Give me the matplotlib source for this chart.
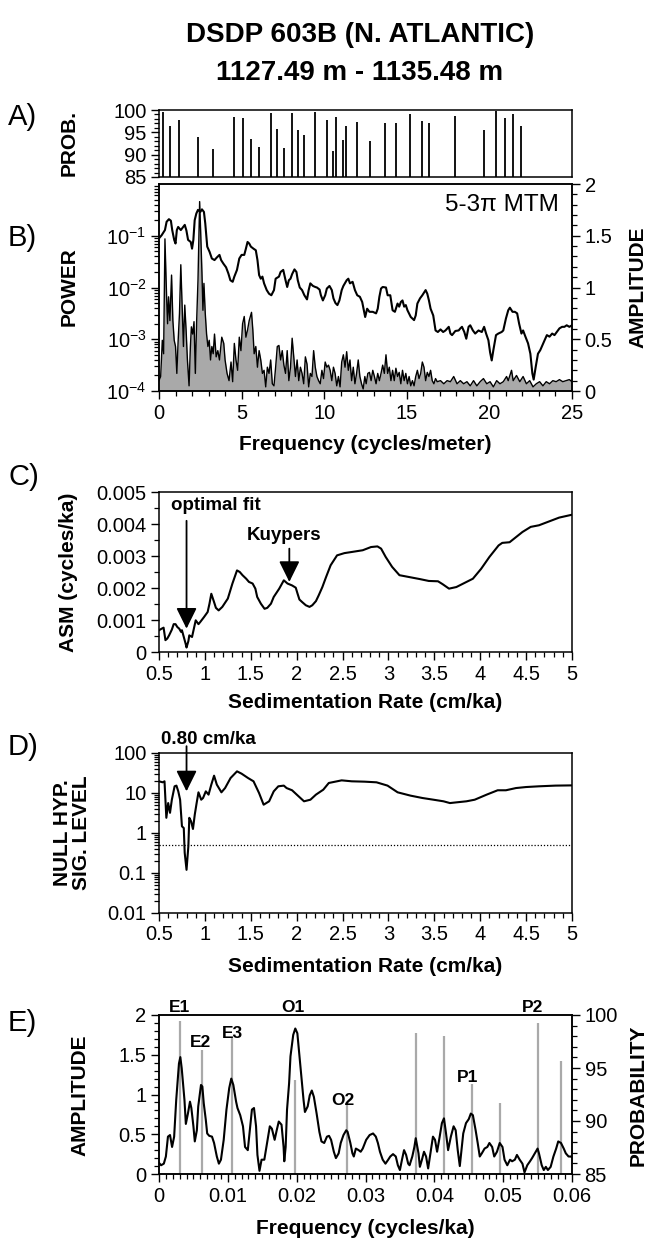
import numpy as np
import matplotlib.pyplot as plt
from matplotlib.ticker import MultipleLocator, LogLocator, NullFormatter, FuncFormatter, FixedLocator, FixedFormatter

plt.rcParams['font.family'] = ['Liberation Sans', 'DejaVu Sans']
plt.rcParams['mathtext.fontset'] = 'custom'
plt.rcParams['mathtext.rm'] = 'Liberation Sans'
plt.rcParams['axes.linewidth'] = 1.1

# ---------------- data ----------------
# A) probability of spectral peaks (cycles/meter, %)
prob_freq = [0.25, 0.68, 1.23, 2.37, 3.28, 4.55, 5.06, 5.56, 6.08, 6.75, 7.16, 7.58,
             8.03, 8.40, 8.80, 9.42, 10.15, 10.52, 10.73, 11.13, 11.33, 12.00, 12.80,
             13.68, 14.33, 15.22, 15.92, 16.36, 17.90, 19.68, 20.39, 20.93, 21.44, 21.89]
prob_val = [99.6, 96.4, 97.7, 94.0, 91.3, 98.5, 98.2, 93.5, 91.7, 99.3, 95.8, 91.6,
            99.3, 95.5, 94.3, 99.6, 97.7, 90.9, 98.5, 93.2, 96.4, 97.3, 93.0,
            97.0, 97.2, 99.2, 97.5, 97.2, 98.6, 95.6, 99.8, 98.2, 99.1, 96.5]

# B) MTM power (log10) and amplitude vs frequency (cycles/meter)
pow_freq = [0.00, 0.16, 0.36, 0.46, 0.60, 0.72, 0.80, 0.92, 1.00, 1.08, 1.16, 1.32, 1.46, 1.56,
            1.66, 1.76, 1.92, 2.00, 2.08, 2.16, 2.26, 2.36, 2.50, 2.60, 2.72, 2.80, 2.92, 3.06,
            3.20, 3.36, 3.50, 3.66, 3.76, 3.90, 4.06, 4.20, 4.32, 4.46, 4.56, 4.72, 4.86, 5.00,
            5.16, 5.26, 5.36, 5.46, 5.56, 5.72, 5.86, 5.96, 6.06, 6.16, 6.26, 6.36, 6.52, 6.66,
            6.80, 6.96, 7.06, 7.26, 7.36, 7.52, 7.66, 7.76, 7.86, 7.96, 8.06, 8.20, 8.32, 8.40,
            8.52, 8.66, 8.80, 8.96, 9.06, 9.16, 9.32, 9.46, 9.56, 9.72, 9.80, 9.92, 10.06, 10.16,
            10.32, 10.46, 10.56, 10.68, 10.80, 10.92, 11.06, 11.16, 11.36, 11.46, 11.56, 11.72,
            11.86, 12.00, 12.16, 12.30, 12.40, 12.48, 12.60, 12.74, 12.94, 13.14, 13.24, 13.34,
            13.44, 13.54, 13.74, 13.84, 14.00, 14.14, 14.28, 14.44, 14.54, 14.64, 14.74, 14.84,
            14.94, 15.04, 15.24, 15.44, 15.54, 15.64, 15.80, 15.94, 16.14, 16.24, 16.34, 16.44,
            16.60, 16.74, 16.88, 17.04, 17.20, 17.34, 17.54, 17.64, 17.74, 17.94, 18.14, 18.24,
            18.34, 18.48, 18.60, 18.74, 18.84, 19.00, 19.14, 19.34, 19.54, 19.68, 19.80, 19.94,
            20.04, 20.14, 20.24, 20.40, 20.54, 20.74, 20.84, 21.00, 21.14, 21.24, 21.40, 21.54,
            21.68, 21.80, 21.94, 22.04, 22.18, 22.34, 22.48, 22.60, 22.68, 22.80, 22.94, 23.08,
            23.20, 23.34, 23.48, 23.64, 23.80, 23.94, 24.08, 24.24, 24.40, 24.54, 24.68, 24.84, 25.00]
pow_log = [-1.05, -0.99, -0.89, -0.73, -0.68, -0.71, -0.89, -1.08, -1.15, -0.89, -0.83, -0.89, -0.83, -0.79,
           -0.90, -1.08, -1.12, -1.25, -1.08, -0.70, -0.57, -0.50, -0.54, -0.49, -0.54, -0.76, -1.21, -1.31,
           -1.44, -1.47, -1.42, -1.37, -1.47, -1.54, -1.61, -1.73, -1.86, -1.89, -1.79, -1.66, -1.44, -1.37,
           -1.37, -1.25, -1.12, -1.15, -1.21, -1.25, -1.28, -1.47, -1.76, -1.83, -1.79, -1.92, -2.05, -2.12,
           -2.15, -2.05, -1.83, -1.79, -1.70, -1.66, -1.86, -1.99, -1.86, -1.83, -1.74, -1.65, -1.70, -1.86,
           -2.00, -2.05, -2.15, -2.23, -2.05, -1.92, -1.97, -1.99, -2.00, -2.04, -2.15, -2.25, -2.15, -2.02,
           -1.97, -2.05, -2.21, -2.30, -2.34, -2.25, -2.05, -1.97, -1.86, -1.83, -1.92, -1.89,
           -2.05, -2.15, -2.18, -2.28, -2.44, -2.57, -2.41, -2.47, -2.47, -2.50, -2.41, -2.18,
           -2.02, -1.99, -2.00, -2.15, -2.15, -2.44, -2.47, -2.31, -2.37, -2.28, -2.25, -2.37,
           -2.34, -2.44, -2.57, -2.63, -2.54, -2.31, -2.21, -2.15, -2.05, -2.12, -2.25, -2.41,
           -2.54, -2.83, -2.86, -2.81, -2.86, -2.83, -2.76, -2.89, -2.92, -2.84, -2.83, -2.79,
           -2.76, -2.86, -2.99, -2.76, -2.73, -2.83, -2.89, -2.83, -2.86, -2.76, -2.89, -3.02,
           -3.25, -3.41, -3.21, -2.92, -2.89, -2.86, -2.83, -2.60, -2.44, -2.39, -2.47, -2.47,
           -2.50, -2.70, -2.89, -2.83, -2.95, -3.08, -3.28, -3.66, -3.78, -3.54, -3.28, -3.21,
           -3.12, -3.02, -2.92, -2.95, -2.89, -2.92, -2.86, -2.79, -2.76, -2.76, -2.73, -2.76, -2.73]

amp_freq = [0.00, 0.10, 0.20, 0.28, 0.36, 0.46, 0.52, 0.58, 0.66, 0.76, 0.84, 0.92, 1.00, 1.08,
            1.16, 1.24, 1.32, 1.40, 1.48, 1.56, 1.64, 1.72, 1.82, 1.90, 1.96, 2.04, 2.12, 2.20,
            2.28, 2.36, 2.46, 2.52, 2.60, 2.66, 2.72, 2.80, 2.88, 2.96, 3.04, 3.12, 3.20, 3.28,
            3.36, 3.46, 3.56, 3.66, 3.80, 3.92, 4.00, 4.12, 4.24, 4.36, 4.46, 4.56, 4.66, 4.76,
            4.86, 4.96, 5.06, 5.16, 5.26, 5.36, 5.46, 5.60, 5.68, 5.76, 5.86, 5.96, 6.06, 6.16,
            6.26, 6.36, 6.46, 6.56, 6.66, 6.76, 6.86, 6.96, 7.06, 7.16, 7.26, 7.36, 7.46, 7.56,
            7.66, 7.76, 7.86, 7.96, 8.06, 8.16, 8.26, 8.36, 8.46, 8.56, 8.66, 8.76, 8.86, 8.96,
            9.06, 9.16, 9.26, 9.36, 9.46, 9.56, 9.66, 9.76, 9.86, 9.96, 10.06, 10.16, 10.26, 10.36,
            10.46, 10.56, 10.66, 10.76, 10.86, 10.96, 11.06, 11.16, 11.26, 11.36, 11.46, 11.56,
            11.66, 11.76, 11.86, 11.96, 12.06, 12.16, 12.26, 12.36, 12.46, 12.54, 12.64, 12.74,
            12.84, 12.94, 13.04, 13.14, 13.24, 13.34, 13.44, 13.54, 13.64, 13.74, 13.84, 13.94,
            14.04, 14.14, 14.24, 14.34, 14.44, 14.54, 14.64, 14.74, 14.84, 14.94, 15.04, 15.14,
            15.24, 15.34, 15.44, 15.54, 15.64, 15.74, 15.84, 15.94, 16.04, 16.14, 16.24, 16.34,
            16.44, 16.54, 16.64, 16.74, 16.84, 17.04, 17.24, 17.44, 17.64, 17.84, 18.04, 18.24,
            18.44, 18.64, 18.84, 19.04, 19.24, 19.44, 19.64, 19.84, 20.04, 20.24, 20.44, 20.64,
            20.84, 21.04, 21.14, 21.34, 21.44, 21.64, 21.84, 22.04, 22.24, 22.44, 22.64, 22.84,
            23.04, 23.24, 23.44, 23.64, 23.84, 24.04, 24.24, 24.44, 24.64, 24.84, 25.00]
amp_val = [0.10, 0.14, 0.49, 0.36, 1.47, 0.91, 0.65, 0.91, 0.68, 1.12, 0.68, 0.49, 0.43, 0.17,
           0.49, 0.75, 1.22, 0.81, 0.43, 0.83, 0.59, 0.30, 0.05, 0.43, 0.62, 0.55, 0.67, 0.17,
           0.68, 1.07, 1.83, 1.55, 1.14, 0.78, 1.04, 0.75, 0.55, 0.43, 0.49, 0.30, 0.43, 0.36,
           0.55, 0.33, 0.39, 0.30, 0.52, 0.46, 0.30, 0.17, 0.10, 0.28, 0.09, 0.46, 0.30, 0.20,
           0.52, 0.39, 0.65, 0.72, 0.52, 0.59, 0.68, 0.76, 0.59, 0.36, 0.43, 0.23, 0.39, 0.30,
           0.17, 0.20, 0.04, 0.23, 0.17, 0.30, 0.07, 0.05, 0.23, 0.43, 0.44, 0.30, 0.39, 0.25,
           0.17, 0.39, 0.10, 0.23, 0.51, 0.33, 0.14, 0.30, 0.10, 0.23, 0.17, 0.07, 0.33, 0.26,
           0.04, 0.17, 0.14, 0.39, 0.23, 0.14, 0.10, 0.07, 0.20, 0.12, 0.28, 0.23, 0.25, 0.20,
           0.10, 0.23, 0.17, 0.05, 0.14, 0.04, 0.28, 0.35, 0.23, 0.38, 0.20, 0.30,
           0.10, 0.23, 0.07, 0.17, 0.30, 0.14, 0.07, 0.02, 0.14, 0.07, 0.17, 0.18,
           0.10, 0.20, 0.14, 0.07, 0.17, 0.10, 0.17, 0.25, 0.17, 0.35, 0.17, 0.23,
           0.10, 0.20, 0.10, 0.22, 0.14, 0.18, 0.07, 0.20, 0.10, 0.17, 0.07, 0.14,
           0.05, 0.10, 0.05, 0.14, 0.20, 0.12, 0.17, 0.28, 0.23, 0.10, 0.18, 0.14,
           0.20, 0.10, 0.07, 0.12, 0.09, 0.10, 0.07, 0.10, 0.09, 0.14, 0.07, 0.10,
           0.07, 0.09, 0.05, 0.10, 0.05, 0.09, 0.12, 0.07, 0.09, 0.04, 0.10, 0.07,
           0.09, 0.14, 0.10, 0.20, 0.10, 0.15, 0.09, 0.14, 0.07, 0.10, 0.04, 0.07,
           0.09, 0.05, 0.09, 0.07, 0.10, 0.09, 0.11, 0.09, 0.10, 0.11, 0.09]

# C) average spectral misfit vs sedimentation rate (cm/ka)
asm_rate = [0.50, 0.53, 0.55, 0.57, 0.59, 0.61, 0.64, 0.66, 0.68, 0.70, 0.72, 0.74, 0.75, 0.77,
            0.79, 0.80, 0.82, 0.83, 0.86, 0.90, 0.93, 0.95, 0.99, 1.03, 1.05, 1.07, 1.10, 1.12,
            1.15, 1.19, 1.25, 1.30, 1.35, 1.38, 1.41, 1.45, 1.48, 1.52, 1.55, 1.57, 1.61, 1.65,
            1.68, 1.72, 1.75, 1.81, 1.86, 1.90, 1.95, 1.99, 2.01, 2.03, 2.06, 2.10, 2.14, 2.17,
            2.21, 2.24, 2.28, 2.32, 2.37, 2.44, 2.52, 2.61, 2.72, 2.81, 2.88, 2.92, 2.97, 3.04,
            3.12, 3.23, 3.34, 3.44, 3.54, 3.59, 3.66, 3.74, 3.83, 3.92, 4.01, 4.10, 4.20, 4.24,
            4.32, 4.39, 4.46, 4.55, 4.64, 4.75, 4.86, 5.00]
asm_val = [0.00068, 0.00073, 0.00076, 0.00037, 0.00042, 0.00052, 0.00070, 0.00087, 0.00087,
           0.00078, 0.00073, 0.00063, 0.00068, 0.00047, 0.00026, 0.00014, 0.00034, 0.00052,
           0.00047, 0.00099, 0.00087, 0.00094, 0.00109, 0.00125, 0.00151, 0.00182, 0.00156,
           0.00138, 0.00130, 0.00141, 0.00167, 0.00214, 0.00255, 0.00250, 0.00240, 0.00229,
           0.00219, 0.00214, 0.00198, 0.00172, 0.00151, 0.00135, 0.00138, 0.00151, 0.00172,
           0.00198, 0.00224, 0.00214, 0.00208, 0.00201, 0.00182, 0.00164, 0.00156, 0.00146,
           0.00141, 0.00146, 0.00159, 0.00177, 0.00203, 0.00234, 0.00271, 0.00302, 0.00309,
           0.00313, 0.00318, 0.00328, 0.00330, 0.00323, 0.00297, 0.00266, 0.00240, 0.00234,
           0.00228, 0.00222, 0.00221, 0.00212, 0.00198, 0.00203, 0.00216, 0.00229, 0.00260,
           0.00297, 0.00333, 0.00341, 0.00343, 0.00359, 0.00375, 0.00391, 0.00396, 0.00408,
           0.00420, 0.00429]

# D) null hypothesis significance level (%)
sig_rate = [0.50, 0.54, 0.56, 0.58, 0.60, 0.62, 0.64, 0.67, 0.69, 0.71, 0.73, 0.75, 0.77, 0.78,
            0.80, 0.82, 0.83, 0.85, 0.87, 0.89, 0.91, 0.93, 0.96, 0.98, 1.01, 1.04, 1.07, 1.10,
            1.13, 1.18, 1.22, 1.28, 1.35, 1.40, 1.47, 1.53, 1.59, 1.64, 1.70, 1.75, 1.80, 1.86,
            1.89, 1.95, 2.02, 2.08, 2.15, 2.21, 2.29, 2.35, 2.49, 2.60, 2.74, 2.87, 2.99, 3.10,
            3.24, 3.37, 3.49, 3.60, 3.67, 3.73, 3.85, 3.94, 4.07, 4.19, 4.28, 4.39, 4.50, 4.64,
            4.82, 5.00]
sig_val = [19.6, 18.5, 19.6, 2.4, 5.6, 3.2, 6.8, 14.7, 15.3, 11.0, 6.8, 1.47, 1.33, 0.32,
           0.12, 0.47, 2.4, 1.95, 1.26, 2.9, 5.6, 10.4, 6.8, 7.5, 11.0, 9.1, 16.2, 27.1,
           16.2, 10.4, 13.3, 23.7, 34.8, 30.4, 23.7, 19.6, 10.0, 5.1, 6.2, 11.0, 14.7, 15.3,
           13.3, 11.7, 8.3, 6.2, 6.8, 9.1, 12.1, 17.8, 20.7, 19.6, 19.2, 18.5, 15.3, 10.4,
           8.6, 7.5, 6.8, 6.2, 5.6, 5.8, 6.2, 6.8, 9.1, 11.7, 11.7, 13.3, 14.1, 14.7,
           15.3, 15.5]
sig_cutoff = 0.5

# E) amplitude vs frequency (cycles/ka) and astronomical term probabilities
e_freq = [0.0000, 0.0003, 0.0007, 0.0010, 0.0013, 0.0016, 0.0019, 0.0022, 0.0025, 0.0029,
          0.0031, 0.0033, 0.0037, 0.0039, 0.0042, 0.0045, 0.0047, 0.0050, 0.0052, 0.0055,
          0.0057, 0.0061, 0.0063, 0.0065, 0.0068, 0.0070, 0.0073, 0.0077, 0.0080, 0.0084,
          0.0087, 0.0090, 0.0094, 0.0098, 0.0102, 0.0105, 0.0108, 0.0112, 0.0114, 0.0118,
          0.0122, 0.0125, 0.0129, 0.0132, 0.0135, 0.0138, 0.0141, 0.0143, 0.0146, 0.0149,
          0.0153, 0.0157, 0.0161, 0.0164, 0.0168, 0.0171, 0.0174, 0.0178, 0.0181, 0.0182,
          0.0184, 0.0186, 0.0189, 0.0191, 0.0195, 0.0198, 0.0201, 0.0203, 0.0207, 0.0210,
          0.0212, 0.0216, 0.0219, 0.0222, 0.0225, 0.0229, 0.0233, 0.0236, 0.0240, 0.0244,
          0.0247, 0.0250, 0.0254, 0.0257, 0.0261, 0.0264, 0.0268, 0.0272, 0.0274, 0.0278,
          0.0281, 0.0283, 0.0286, 0.0290, 0.0293, 0.0296, 0.0301, 0.0306, 0.0311, 0.0315,
          0.0318, 0.0321, 0.0325, 0.0329, 0.0333, 0.0336, 0.0340, 0.0344, 0.0347, 0.0350,
          0.0353, 0.0356, 0.0359, 0.0362, 0.0364, 0.0368, 0.0371, 0.0373, 0.0377, 0.0379,
          0.0382, 0.0385, 0.0388, 0.0391, 0.0395, 0.0398, 0.0401, 0.0404, 0.0407, 0.0411,
          0.0414, 0.0417, 0.0420, 0.0424, 0.0428, 0.0431, 0.0434, 0.0437, 0.0439, 0.0442,
          0.0446, 0.0450, 0.0453, 0.0456, 0.0460, 0.0463, 0.0466, 0.0469, 0.0473, 0.0477,
          0.0480, 0.0484, 0.0487, 0.0491, 0.0495, 0.0499, 0.0502, 0.0506, 0.0510, 0.0513,
          0.0517, 0.0520, 0.0524, 0.0528, 0.0531, 0.0535, 0.0539, 0.0542, 0.0546, 0.0550,
          0.0552, 0.0556, 0.0559, 0.0562, 0.0565, 0.0569, 0.0573, 0.0577, 0.0580, 0.0584,
          0.0588, 0.0591, 0.0595, 0.0599, 0.0600]
e_amp = [0.14, 0.11, 0.13, 0.22, 0.47, 0.49, 0.34, 0.47, 0.93, 1.39,
         1.47, 1.33, 0.93, 0.63, 0.76, 0.91, 0.83, 0.60, 0.41, 0.55,
         0.85, 1.12, 1.10, 0.89, 0.68, 0.51, 0.48, 0.47, 0.39, 0.22,
         0.13, 0.18, 0.43, 0.81, 1.08, 1.20, 1.12, 0.91, 0.83, 0.74,
         0.60, 0.34, 0.30, 0.55, 0.81, 0.83, 0.60, 0.24, 0.04, 0.18,
         0.18, 0.39, 0.60, 0.57, 0.43, 0.55, 0.66, 0.62, 0.34, 0.16,
         0.34, 0.81, 1.14, 1.48, 1.75, 1.83, 1.77, 1.58, 1.20, 0.93,
         0.78, 0.85, 0.99, 1.05, 0.97, 0.76, 0.53, 0.41, 0.39, 0.47,
         0.48, 0.43, 0.28, 0.20, 0.26, 0.39, 0.49, 0.55, 0.53, 0.39,
         0.26, 0.22, 0.32, 0.30, 0.28, 0.32, 0.43, 0.49, 0.51, 0.47,
         0.39, 0.28, 0.18, 0.13, 0.18, 0.22, 0.25, 0.22, 0.11, 0.05,
         0.18, 0.30, 0.24, 0.13, 0.11, 0.22, 0.34, 0.45, 0.26, 0.09,
         0.18, 0.28, 0.22, 0.07, 0.30, 0.47, 0.43, 0.28, 0.43, 0.64,
         0.70, 0.51, 0.30, 0.47, 0.60, 0.55, 0.30, 0.10, 0.26, 0.51,
         0.64, 0.69, 0.76, 0.74, 0.55, 0.39, 0.22, 0.26, 0.32, 0.34,
         0.39, 0.34, 0.22, 0.28, 0.39, 0.34, 0.18, 0.11, 0.18, 0.16,
         0.18, 0.24, 0.18, 0.13, 0.02, 0.11, 0.16, 0.20, 0.26, 0.32,
         0.26, 0.11, 0.05, 0.09, 0.05, 0.09, 0.22, 0.32, 0.41, 0.39,
         0.32, 0.26, 0.22, 0.22, 0.21]
e_bar_freq = [0.0030, 0.0062, 0.0106, 0.0197, 0.0273, 0.0373, 0.0414, 0.0455, 0.0496, 0.0550, 0.0584]
e_bar_prob = [99.4, 96.7, 97.9, 93.9, 91.7, 98.3, 98.0, 93.5, 91.7, 99.2, 95.7]
term_names = ['E1', 'E2', 'E3', 'O1', 'O2', 'P1', 'P2']
term_freq = [0.0030, 0.0060, 0.0106, 0.0195, 0.0267, 0.0449, 0.0542]
term_amp = [2.10, 1.65, 1.77, 2.09, 0.93, 1.22, 2.10]

# ---------------- figure ----------------
W, H = 650, 1242
fig = plt.figure(figsize=(W / 100, H / 100), dpi=100)

X0, X1 = 159, 572


def rect(top, bot):
    return [X0 / W, 1 - bot / H, (X1 - X0) / W, (bot - top) / H]


def px(x, y):
    return x / W, 1 - y / H


TICK = 14.5
LAB = 15
fmt = FuncFormatter(lambda v, p: '%g' % v)


def style(ax, right=False):
    ax.tick_params(which='major', direction='out', length=6, width=1.0, labelsize=TICK,
                   top=False, right=right, left=not right, pad=3)
    ax.tick_params(which='minor', direction='out', length=3.5, width=0.9,
                   top=False, right=right, left=not right)


def side_label(text, x, y, size=LAB):
    fig.text(*px(x, y), text, rotation=90, ha='center', va='center',
             fontsize=size, fontweight='bold', linespacing=1.0)


def panel_letter(text, y):
    fig.text(*px(8, y), text, ha='left', va='center', fontsize=21)


fig.text(*px(360, 35), 'DSDP 603B (N. ATLANTIC)', ha='center', va='center',
         fontsize=20, fontweight='bold')
fig.text(*px(360, 73), '1127.49 m - 1135.48 m', ha='center', va='center',
         fontsize=20, fontweight='bold')

# A
axA = fig.add_axes(rect(110, 177))
axA.vlines(prob_freq, 85, prob_val, color='k', lw=1.3)
axA.set_xlim(0, 25)
axA.set_ylim(85, 100)
axA.set_xticks([])
axA.yaxis.set_major_locator(MultipleLocator(5))
axA.yaxis.set_minor_locator(MultipleLocator(1))
axA.yaxis.set_major_formatter(fmt)
style(axA)
panel_letter('A)', 117)
side_label('PROB.', 69, 143)

# B
axB = fig.add_axes(rect(184, 391))
axB.plot(pow_freq, 10 ** np.array(pow_log), color='k', lw=1.5, zorder=3)
axB.set_yscale('log')
axB.set_ylim(1e-4, 1)
axB.set_xlim(0, 25)
axB.yaxis.set_major_locator(FixedLocator([1e-4, 1e-3, 1e-2, 1e-1]))
axB.yaxis.set_major_formatter(FixedFormatter([r'$10^{-4}$', r'$10^{-3}$', r'$10^{-2}$', r'$10^{-1}$']))
axB.yaxis.set_minor_locator(LogLocator(base=10, subs=np.arange(2, 10), numticks=20))
axB.yaxis.set_minor_formatter(NullFormatter())
axB.xaxis.set_major_locator(MultipleLocator(5))
axB.xaxis.set_minor_locator(MultipleLocator(1))
axB.xaxis.set_major_formatter(fmt)
style(axB)
axB2 = axB.twinx()
axB2.fill_between(amp_freq, 0, amp_val, color='#a9a9a9', lw=0)
axB2.plot(amp_freq, amp_val, color='k', lw=1.0)
axB2.set_ylim(0, 2)
axB2.set_xlim(0, 25)
axB2.yaxis.set_major_locator(MultipleLocator(0.5))
axB2.yaxis.set_minor_locator(MultipleLocator(0.1))
axB2.yaxis.set_major_formatter(fmt)
style(axB2, right=True)
axB.set_zorder(axB2.get_zorder() + 1)
axB.patch.set_visible(False)
axB.text(0.968, 0.90, '5-3\u03c0 MTM', transform=axB.transAxes, ha='right', va='center', fontsize=17.5)
panel_letter('B)', 238)
side_label('POWER', 69, 287)
side_label('AMPLITUDE', 638, 287)
fig.text(*px(365, 445), 'Frequency (cycles/meter)', ha='center', va='center',
         fontsize=LAB, fontweight='bold')

arrow = dict(arrowstyle='-|>,head_length=0.85,head_width=0.42', color='k', lw=1.3,
             mutation_scale=15, shrinkA=0, shrinkB=0)

# C
axC = fig.add_axes(rect(492, 652))
axC.plot(asm_rate, asm_val, color='k', lw=1.5)
axC.set_xlim(0.5, 5)
axC.set_ylim(0, 0.005)
axC.xaxis.set_major_locator(MultipleLocator(0.5))
axC.xaxis.set_minor_locator(MultipleLocator(0.1))
axC.yaxis.set_major_locator(MultipleLocator(0.001))
axC.yaxis.set_minor_locator(MultipleLocator(0.0005))
axC.xaxis.set_major_formatter(fmt)
axC.yaxis.set_major_formatter(fmt)
style(axC)
axC.annotate('', xy=(0.80, 0.00073), xytext=(0.80, 0.0041), arrowprops=arrow)
axC.text(1.12, 0.00458, 'optimal fit', ha='center', va='center', fontsize=13.5, fontweight='bold')
axC.annotate('', xy=(1.92, 0.00219), xytext=(1.92, 0.00323), arrowprops=arrow)
axC.text(1.86, 0.00365, 'Kuypers', ha='center', va='center', fontsize=13.5, fontweight='bold')
panel_letter('C)', 477)
side_label('ASM (cycles/ka)', 69, 572)
fig.text(*px(365, 703), 'Sedimentation Rate (cm/ka)', ha='center', va='center',
         fontsize=LAB, fontweight='bold')

# D
axD = fig.add_axes(rect(753, 913))
axD.plot(sig_rate, sig_val, color='k', lw=1.5)
axD.axhline(sig_cutoff, color='k', lw=0.9, ls=(0, (1, 1.5)))
axD.set_yscale('log')
axD.set_xlim(0.5, 5)
axD.set_ylim(0.01, 100)
axD.yaxis.set_major_locator(FixedLocator([0.01, 0.1, 1, 10, 100]))
axD.yaxis.set_major_formatter(FixedFormatter(['0.01', '0.1', '1', '10', '100']))
axD.yaxis.set_minor_locator(LogLocator(base=10, subs=np.arange(2, 10), numticks=20))
axD.yaxis.set_minor_formatter(NullFormatter())
axD.xaxis.set_major_locator(MultipleLocator(0.5))
axD.xaxis.set_minor_locator(MultipleLocator(0.1))
axD.xaxis.set_major_formatter(fmt)
style(axD)
axD.annotate('', xy=(0.80, 11), xytext=(0.80, 148), arrowprops=arrow, annotation_clip=False)
axD.text(1.04, 214, '0.80 cm/ka', ha='center', va='center', fontsize=13.5, fontweight='bold',
         clip_on=False)
panel_letter('D)', 747)
side_label('NULL HYP.\nSIG. LEVEL', 72, 833)
fig.text(*px(365, 967), 'Sedimentation Rate (cm/ka)', ha='center', va='center',
         fontsize=LAB, fontweight='bold')

# E
axE = fig.add_axes(rect(1015, 1174))
axE2 = axE.twinx()
axE2.vlines(e_bar_freq, 85, e_bar_prob, color='#a9a9a9', lw=1.6)
axE2.set_ylim(85, 100)
axE2.yaxis.set_major_locator(MultipleLocator(5))
axE2.yaxis.set_minor_locator(MultipleLocator(1))
axE2.yaxis.set_major_formatter(fmt)
style(axE2, right=True)
axE.plot(e_freq, e_amp, color='k', lw=1.5)
axE.set_xlim(0, 0.06)
axE.set_ylim(0, 2)
axE.xaxis.set_major_locator(MultipleLocator(0.01))
axE.xaxis.set_minor_locator(MultipleLocator(0.001))
axE.yaxis.set_major_locator(MultipleLocator(0.5))
axE.yaxis.set_minor_locator(MultipleLocator(0.1))
axE.xaxis.set_major_formatter(fmt)
axE.yaxis.set_major_formatter(fmt)
style(axE)
axE.set_zorder(axE2.get_zorder() + 1)
axE.patch.set_visible(False)
for name, f, a in zip(term_names, term_freq, term_amp):
    axE.text(f, a, name, ha='center', va='center', fontsize=12.5, fontweight='bold', clip_on=False)
panel_letter('E)', 1023)
side_label('AMPLITUDE', 80, 1095)
side_label('PROBABILITY', 638, 1095)
fig.text(*px(365, 1228), 'Frequency (cycles/ka)', ha='center', va='center',
         fontsize=LAB, fontweight='bold')

fig.savefig('out.png', dpi=100)
